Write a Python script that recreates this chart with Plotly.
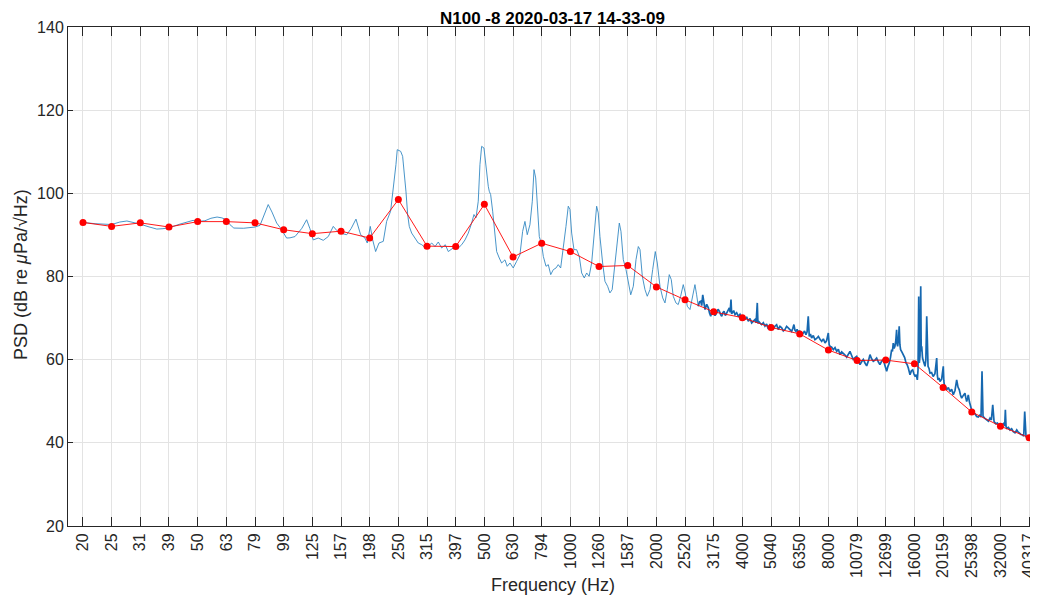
import plotly.graph_objects as go

# third-octave band centres (Hz), their printed labels and band levels (dB)
band_freq = [19.69, 24.80, 31.25, 39.37, 49.61, 62.50, 78.75, 99.21, 125.0, 157.5,
             198.4, 250.0, 315.0, 396.9, 500.0, 630.0, 793.7, 1000.0, 1259.9, 1587.4,
             2000.0, 2519.8, 3174.8, 4000.0, 5039.7, 6349.6, 8000.0, 10079.0, 12699.0,
             16000.0, 20159.0, 25398.0, 32000.0, 40317.0]
band_label = ["20", "25", "31", "39", "50", "63", "79", "99", "125", "157", "198", "250",
              "315", "397", "500", "630", "794", "1000", "1260", "1587", "2000", "2520",
              "3175", "4000", "5040", "6350", "8000", "10079", "12699", "16000", "20159",
              "25398", "32000", "40317"]
band_level = [93.0, 92.05, 92.9, 91.9, 93.2, 93.2, 92.9, 91.25, 90.3, 90.9,
              89.25, 98.5, 87.3, 87.2, 97.35, 84.7, 88.0, 86.0, 82.4, 82.65,
              77.5, 74.4, 71.5, 70.1, 67.75, 66.2, 62.3, 59.8, 59.9,
              59.0, 53.3, 47.4, 44.0, 41.25]

# narrow-band PSD spectrum, low part (Hz, dB)
spec_freq = [19.7, 21.7, 24.8, 26.5, 28.05, 29.94, 31.25, 33.25, 35.7, 37.5,
             39.37, 43.0, 47.8, 49.61, 52.6, 55.2, 58.0, 60.3, 62.5, 64.3,
             66.4, 71.9, 75.6, 78.75, 82.0, 84.7, 87.6, 90.3, 93.8, 97.1,
             101.6, 104.4, 108.7, 114.9, 119.4, 122.6, 125.9, 131.1, 136.5, 142.1,
             148.0, 152.5, 156.2, 164.9, 170.8, 177.7, 184.5, 191.0, 194.6, 199.4,
             203.3, 208.2, 213.9, 221.4, 227.5, 234.9, 238.8, 241.3, 245.2, 247.8,
             254.7, 258.8, 262.2, 265.8, 269.5, 273.0, 278.3, 285.8, 293.5, 301.8,
             309.9, 318.3, 327.2, 336.0, 345.0, 354.5, 364.9, 373.9, 384.3, 394.7,
             405.3, 416.6, 427.8, 439.3, 451.3, 459.8, 467.3, 476.0, 482.5, 489.2,
             498.4, 506.5, 511.9, 516.0, 520.1, 526.0, 534.6, 544.6, 552.1, 563.8,
             574.7, 590.2, 601.2, 614.5, 631.0, 648.5, 666.0, 680.7, 693.5, 706.5,
             721.9, 735.8, 746.0, 756.2, 768.5, 778.5, 793.7, 804.0, 821.7, 837.0,
             853.5, 871.6, 890.8, 906.9, 924.8, 944.4, 965.2, 983.2, 996.8, 1010.5,
             1029.5, 1052.1, 1074.4, 1095.3, 1118.6, 1140.4, 1163.3, 1187.0, 1212.0, 1235.7,
             1251.8, 1269.1, 1297.1, 1321.3, 1350.1, 1375.2, 1400.6, 1431.2, 1462.6, 1483.4,
             1503.6, 1532.1, 1565.8, 1595.2, 1626.3, 1660.7, 1697.2, 1729.0, 1752.6, 1785.7,
             1824.3, 1858.4, 1899.3, 1941.2, 1982.4, 2014.6, 2059.0, 2104.2, 2143.4, 2183.6,
             2219.0, 2255.0, 2291.4, 2341.0, 2385.1, 2432.0, 2483.5, 2523.8, 2564.9, 2621.6,
             2679.0, 2728.7, 2766.2, 2802.0]
spec_level = [93.0, 92.7, 92.5, 93.1, 93.35, 93.0, 92.6, 92.0, 91.4, 91.5,
              91.7, 92.6, 93.5, 93.25, 93.4, 94.0, 94.3, 94.1, 93.65, 92.5,
              91.65, 91.6, 91.75, 91.9, 92.3, 95.0, 97.3, 95.5, 92.85, 91.5,
              89.25, 89.3, 89.6, 91.6, 93.65, 91.5, 88.8, 89.25, 88.7, 89.6,
              92.05, 91.0, 90.45, 90.05, 91.5, 93.8, 90.05, 89.25, 88.05, 92.05,
              88.8, 86.0, 88.05, 88.45, 93.25, 95.7, 99.7, 102.1, 106.9, 110.5,
              110.1, 108.9, 105.3, 100.5, 94.9, 92.05, 90.45, 89.25, 88.05, 87.65,
              87.0, 87.3, 88.05, 87.2, 88.3, 86.85, 87.65, 86.0, 86.7, 87.2,
              86.85, 87.65, 88.8, 90.45, 92.85, 94.9, 94.1, 98.1, 106.9, 111.3,
              110.9, 106.1, 103.7, 101.7, 100.5, 99.7, 95.7, 90.05, 86.0, 84.45,
              83.25, 84.0, 82.45, 83.25, 82.05, 83.65, 85.2, 90.85, 93.25, 90.05,
              92.45, 98.1, 105.7, 103.7, 96.5, 89.6, 87.65, 84.85, 82.45, 82.85,
              80.45, 81.65, 82.05, 82.85, 82.05, 86.45, 92.05, 96.9, 96.1, 90.45,
              86.45, 86.45, 84.85, 80.85, 79.65, 80.85, 80.05, 83.25, 90.45, 96.9,
              95.3, 89.6, 83.25, 78.85, 77.65, 76.05, 76.85, 83.25, 88.8, 92.85,
              90.85, 84.05, 81.65, 78.45, 75.6, 77.65, 84.05, 87.2, 86.45, 80.05,
              76.85, 75.25, 76.85, 81.65, 86.0, 83.25, 77.65, 74.85, 73.65, 76.85,
              80.45, 79.25, 75.25, 73.65, 73.25, 75.25, 78.05, 76.05, 72.85, 72.05,
              75.25, 78.05, 75.6, 72.85]

# narrow-band PSD spectrum, dense high part (Hz, dB)
hf_freq = [2802, 2830, 2859, 2882, 2906, 2932, 2960, 3000, 3040, 3069,
           3099, 3132, 3165, 3208, 3253, 3287, 3322, 3354, 3386, 3418,
           3450, 3487, 3526, 3563, 3600, 3624, 3649, 3668, 3687, 3728,
           3769, 3819, 3870, 3923, 3977, 4031, 4085, 4139, 4195, 4253,
           4311, 4369, 4427, 4468, 4510, 4534, 4558, 4614, 4671, 4734,
           4797, 4862, 4927, 4995, 5064, 5132, 5200, 5270, 5341, 5414,
           5489, 5562, 5637, 5711, 5787, 5867, 5948, 6003, 6059, 6108,
           6158, 6215, 6273, 6334, 6396, 6463, 6531, 6602, 6675, 6737,
           6800, 6827, 6855, 6921, 6988, 7082, 7177, 7276, 7376, 7477,
           7579, 7680, 7784, 7887, 7993, 8048, 8104, 8212, 8322, 8437,
           8554, 8668, 8784, 8902, 9021, 9144, 9268, 9392, 9518, 9646,
           9775, 9910, 10047, 10182, 10318, 10456, 10596, 10742, 10889, 11034,
           11181, 11331, 11483, 11640, 11800, 11957, 12116, 12280, 12445, 12618,
           12792, 12926, 13062, 13189, 13317, 13403, 13490, 13582, 13674, 13767,
           13861, 13917, 13973, 14063, 14154, 14234, 14314, 14472, 14631, 14790,
           14952, 15091, 15232, 15337, 15442, 15611, 15782, 15929, 16078, 16228,
           16378, 16470, 16563, 16600, 16643, 16740, 16834, 16900, 16968, 17079,
           17190, 17308, 17427, 17546, 17666, 17760, 17853, 17997, 18142, 18373,
           18605, 18874, 19146, 19247, 19348, 19505, 19662, 19925, 20191, 20273,
           20355, 20553, 20752, 21030, 21310, 21597, 21885, 22188, 22493, 22731,
           22971, 23191, 23413, 23726, 24040, 24208, 24377, 24534, 24692, 24932,
           25174, 25440, 25708, 26064, 26422, 26781, 27143, 27364, 27585, 27698,
           27811, 28231, 28654, 29038, 29425, 29749, 30075, 30233, 30392, 30800,
           31211, 31643, 32077, 32509, 32944, 33118, 33293, 33480, 33667, 34113,
           34563, 35024, 35488, 35985, 36486, 36869, 37255, 37770, 38288, 38600,
           38912, 39117, 39322, 39688, 40057, 40448, 40841, 41173, 41506, 41673,
           41841, 42230, 42623, 42970, 43321]
hf_level = [72.85, 73.9, 74.05, 73.0, 75.6, 73.4, 72.05, 73.3, 72.45, 71.2,
            70.45, 71.9, 71.65, 70.6, 71.25, 72.1, 71.65, 70.9, 70.45, 71.3,
            71.65, 70.6, 71.25, 71.9, 72.45, 71.4, 74.45, 71.0, 71.25, 71.8,
            70.85, 71.3, 70.45, 70.9, 70.05, 70.6, 69.65, 70.3, 69.25, 69.9,
            68.85, 69.2, 69.65, 68.9, 73.65, 68.7, 69.25, 68.8, 68.45, 68.9,
            68.05, 68.6, 67.4, 68.3, 67.9, 67.4, 68.05, 68.4, 67.25, 68.0,
            67.65, 66.9, 67.25, 68.0, 67.65, 67.1, 66.8, 67.5, 68.45, 67.1,
            66.8, 67.3, 66.4, 67.0, 66.55, 65.9, 66.4, 66.9, 66.0, 66.7,
            70.45, 66.3, 65.6, 66.2, 65.2, 65.8, 64.8, 65.1, 65.6, 64.9,
            64.4, 65.0, 64.0, 64.6, 66.4, 63.6, 63.2, 63.0, 62.4, 62.9,
            62.0, 62.5, 61.2, 61.9, 61.6, 61.1, 60.6, 61.3, 62.0, 61.0,
            60.05, 60.5, 60.8, 59.9, 58.8, 59.5, 60.05, 59.2, 58.5, 59.6,
            61.2, 60.2, 59.6, 59.9, 60.4, 59.5, 58.8, 59.6, 60.05, 58.6,
            57.2, 58.4, 59.2, 60.5, 62.4, 62.0, 64.0, 62.7, 63.2, 64.5,
            67.2, 63.8, 63.2, 64.6, 68.05, 63.6, 62.4, 61.8, 61.2, 60.5,
            59.2, 58.8, 58.0, 57.4, 56.35, 57.3, 57.55, 56.6, 55.95, 56.4,
            55.15, 57.5, 75.2, 60.0, 59.2, 61.0, 77.65, 62.0, 63.2, 60.4,
            59.2, 59.0, 58.4, 60.0, 70.45, 59.6, 58.4, 57.9, 56.75, 56.9,
            55.95, 56.6, 60.4, 56.2, 55.15, 55.6, 54.75, 55.3, 58.4, 55.0,
            53.95, 53.6, 52.75, 53.3, 52.35, 52.9, 51.55, 52.6, 55.15, 53.4,
            52.75, 51.5, 50.75, 51.4, 51.95, 50.8, 49.95, 50.6, 51.55, 49.8,
            48.35, 47.6, 47.15, 47.0, 46.35, 46.2, 46.75, 46.2, 57.2, 46.6,
            46.35, 45.9, 45.55, 45.2, 45.95, 45.5, 49.15, 45.7, 45.15, 44.6,
            44.75, 44.2, 43.9, 44.4, 44.75, 44.0, 47.95, 43.9, 43.5, 43.7,
            43.1, 43.4, 42.7, 42.4, 43.1, 42.6, 42.3, 42.0, 41.9, 41.6,
            47.55, 41.9, 41.5, 41.2, 40.9, 41.4, 41.9, 41.2, 56.35, 41.0,
            41.5, 41.1, 40.7, 41.2, 41.5]

y_ticks = [20, 40, 60, 80, 100, 120, 140]

fig = go.Figure()
fig.add_trace(go.Scatter(x=spec_freq, y=spec_level, mode="lines",
                         line=dict(color="#3489c3", width=0.9), showlegend=False))
fig.add_trace(go.Scatter(x=hf_freq, y=hf_level, mode="lines",
                         line=dict(color="#1668b0", width=1.7), showlegend=False))
fig.add_trace(go.Scatter(x=band_freq, y=band_level, mode="lines+markers",
                         line=dict(color="#ff0000", width=0.9),
                         marker=dict(color="#ff0000", size=7), showlegend=False))

axis_col = "#262626"
# the page body adds an 8 px offset, so the figure is 8 px smaller on each side
fig.update_layout(
    width=1030, height=593,
    margin=dict(l=60, r=1, t=19, b=75),
    paper_bgcolor="white", plot_bgcolor="white",
    font=dict(family="Liberation Sans, Arial, sans-serif", size=16, color=axis_col),
    xaxis=dict(type="log", range=[1.2418, 4.6331], automargin=False,
               tickmode="array", tickvals=band_freq, ticktext=band_label,
               tickangle=-90, ticks="inside", ticklen=9, tickcolor=axis_col,
               showline=True, linecolor=axis_col, linewidth=1, mirror="ticks",
               showgrid=True, gridcolor="#e3e3e3", gridwidth=1, zeroline=False,
               tickfont=dict(size=16, color=axis_col)),
    yaxis=dict(range=[20, 140], tickmode="array", tickvals=y_ticks, automargin=False,
               ticks="inside", ticklen=5, tickcolor=axis_col,
               showline=True, linecolor=axis_col, linewidth=1, mirror="ticks",
               showgrid=True, gridcolor="#e3e3e3", gridwidth=1, zeroline=False,
               tickfont=dict(size=16, color=axis_col)),
    annotations=[
        dict(text="<b>N100 -8 2020-03-17 14-33-09</b>", xref="paper", yref="paper",
             x=0.5, y=(526 - 18) / 499, xanchor="center", yanchor="middle",
             borderpad=0, showarrow=False, font=dict(size=17, color="black")),
        dict(text="Frequency (Hz)", xref="paper", yref="paper",
             x=0.5, y=(526 - 585) / 499, xanchor="center", yanchor="middle",
             showarrow=False, font=dict(size=18, color=axis_col)),
        dict(text="PSD (dB re <i>μ</i>Pa/√Hz)", xref="paper", yref="paper",
             x=(21 - 68) / 969, y=(526 - 275) / 499, xanchor="center", yanchor="middle",
             textangle=-90, showarrow=False, font=dict(size=18, color=axis_col)),
    ],
)

fig.write_html("out.html")
